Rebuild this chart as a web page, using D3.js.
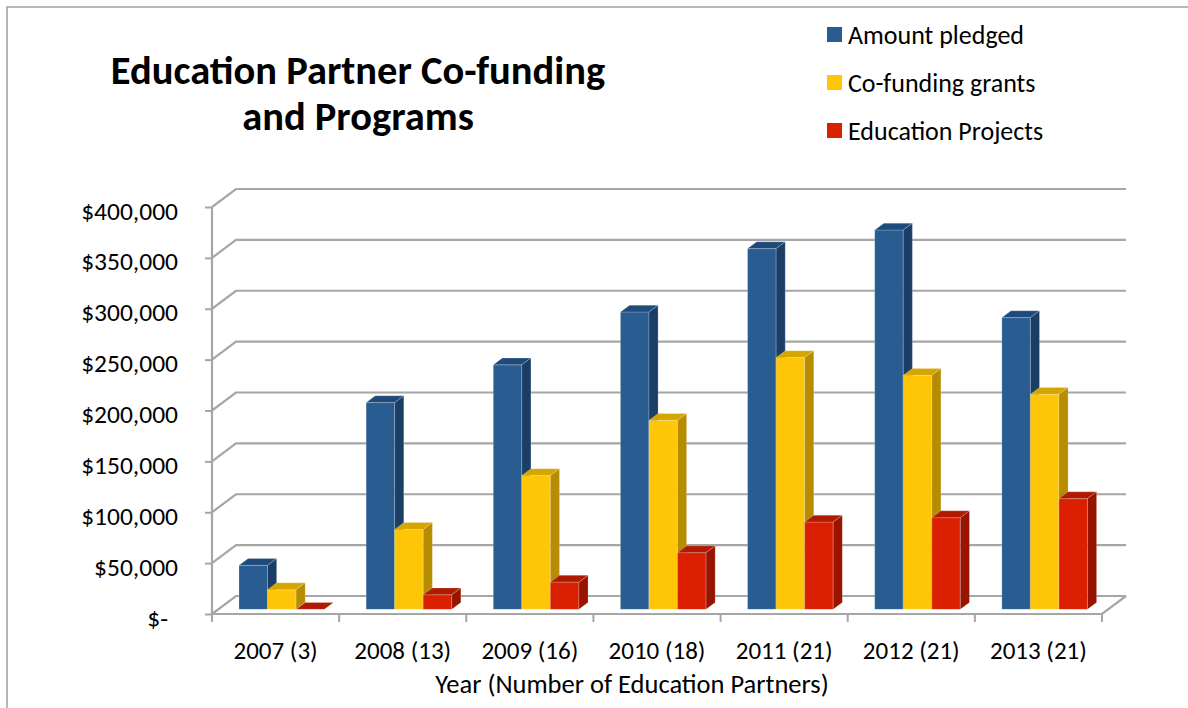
<!DOCTYPE html>
<html>
<head>
<meta charset="utf-8">
<script src="https://cdn.jsdelivr.net/npm/d3@7"></script>
<style>
  body { margin: 0; background: #fff; }
  svg text { font-family: Carlito, Calibri, Lato, sans-serif; fill: #000; }
</style>
</head>
<body>
<div id="chart"></div>
<script>
"use strict";
//values
var categories = ["2007 (3)", "2008 (13)", "2009 (16)", "2010 (18)", "2011 (21)", "2012 (21)", "2013 (21)"];
var seriesNames = ["Amount pledged", "Co-funding grants", "Education Projects"];
var amountPledged = [43200, 203200, 240300, 292200, 354500, 372800, 286700];
var cofundingGrants = [19300, 78500, 131500, 185700, 247400, 230000, 211300];
var educationProjects = [0, 14300, 26700, 55700, 85800, 90100, 108800];
var yTicks = [0, 50000, 100000, 150000, 200000, 250000, 300000, 350000, 400000];

var seriesValues = [amountPledged, cofundingGrants, educationProjects];
//front, top, side shades of each series
var shades = [
  ["#295c91", "#1f4b7b", "#1b3e66"],
  ["#ffc608", "#d6a600", "#b68c00"],
  ["#da2000", "#b01a00", "#961400"]
];

var w = 1188,
  h = 708;

//oblique depth offset of the back wall
var depthX = 24,
  depthY = -18;
//bar depth range (fraction of the wall depth)
var zFront = 0.26,
  zBack = 0.64;

var svg = d3
  .select("#chart")
  .append("svg")
  .attr("width", w)
  .attr("height", h);

//outer frame
svg
  .append("rect")
  .attr("x", 7)
  .attr("y", 7)
  .attr("width", w)
  .attr("height", h)
  .attr("fill", "none")
  .attr("stroke", "#a0a0a0")
  .attr("stroke-width", 1.5);

var x = d3
  .scaleBand()
  .domain(categories)
  .range([212, 1102]);

var y = d3
  .scaleLinear()
  .domain([0, 400000])
  .range([614, 207]);

var gridColor = "#a6a6a6";

//back wall gridlines with the left wall diagonal
var grid = svg.append("g");
grid
  .selectAll("path")
  .data(yTicks)
  .enter()
  .append("path")
  .attr("d", function(d) {
    var x0 = x.range()[0],
      y0 = y(d);
    return (
      "M" + x0 + "," + y0 +
      "L" + (x0 + depthX) + "," + (y0 + depthY) +
      "L" + (x.range()[1] + depthX) + "," + (y0 + depthY)
    );
  })
  .attr("fill", "none")
  .attr("stroke", gridColor)
  .attr("stroke-width", 2.2);

//floor front and right edges
grid
  .append("path")
  .attr("d", function() {
    var x0 = x.range()[0],
      x1 = x.range()[1],
      y0 = y(0);
    return "M" + x0 + "," + y0 + "L" + x1 + "," + y0 + "L" + (x1 + depthX) + "," + (y0 + depthY);
  })
  .attr("fill", "none")
  .attr("stroke", gridColor)
  .attr("stroke-width", 2.2);

//front value axis
var yAxis = d3
  .axisLeft(y)
  .tickValues(yTicks)
  .tickSize(7)
  .tickPadding(27)
  .tickFormat(function(d) {
    return d === 0 ? "$-" : "$" + d3.format(",")(d);
  });

var gy = svg
  .append("g")
  .attr("transform", "translate(" + x.range()[0] + ",0)")
  .call(yAxis);
gy.select(".domain")
  .attr("stroke", gridColor)
  .attr("stroke-width", 2.2)
  .attr("d", "M0," + y(400000) + "V" + y(0));
gy.selectAll(".tick line")
  .attr("stroke", gridColor)
  .attr("stroke-width", 2);
gy.selectAll(".tick text")
  .attr("font-size", 25.5)
  .attr("dy", "0.47em")
  .attr("dx", function(d) {
    return d === 0 ? -10 : 0;
  });

//category ticks at band edges
var edges = categories.map(function(c) {
  return x(c);
});
edges.push(x.range()[1]);
svg
  .append("g")
  .selectAll("line")
  .data(edges)
  .enter()
  .append("line")
  .attr("x1", function(d) {
    return d;
  })
  .attr("x2", function(d) {
    return d;
  })
  .attr("y1", y(0))
  .attr("y2", y(0) + 8)
  .attr("stroke", gridColor)
  .attr("stroke-width", 2);

var xAxis = d3.axisBottom(x).tickSize(0).tickPadding(45);
var gx = svg
  .append("g")
  .attr("transform", "translate(0," + y(0) + ")")
  .call(xAxis);
gx.select(".domain").remove();
gx.selectAll(".tick text")
  .attr("font-size", 25)
  .attr("dy", "0");

//3d bars
var barFrac = 0.2245;
var bw = x.bandwidth() * barFrac;

function pt(px, py) {
  return px + "," + py;
}

var bars = [];
categories.forEach(function(c, ci) {
  seriesValues.forEach(function(vals, si) {
    bars.push({ cat: c, s: si, v: vals[ci] });
  });
});

var barG = svg
  .append("g")
  .selectAll("g")
  .data(bars)
  .enter()
  .append("g");

barG.each(function(d) {
  var g = d3.select(this);
  var left = x(d.cat) + x.bandwidth() / 2 - 1.5 * bw + d.s * bw;
  var fx = left + zFront * depthX,
    fyb = y(0) + zFront * depthY,
    fyt = y(d.v) + zFront * depthY;
  var bx = (zBack - zFront) * depthX,
    by = (zBack - zFront) * depthY;
  var c = shades[d.s];
  //front face
  g.append("polygon")
    .attr("points", [pt(fx, fyt), pt(fx + bw, fyt), pt(fx + bw, fyb), pt(fx, fyb)].join(" "))
    .attr("fill", c[0])
    .attr("stroke", "rgba(255,255,255,0.35)")
    .attr("stroke-width", 0.6);
  //top face
  g.append("polygon")
    .attr("points", [pt(fx, fyt), pt(fx + bx, fyt + by), pt(fx + bw + bx, fyt + by), pt(fx + bw, fyt)].join(" "))
    .attr("fill", c[1])
    .attr("stroke", "rgba(255,255,255,0.35)")
    .attr("stroke-width", 0.6);
  //side face
  g.append("polygon")
    .attr("points", [pt(fx + bw, fyt), pt(fx + bw + bx, fyt + by), pt(fx + bw + bx, fyb + by), pt(fx + bw, fyb)].join(" "))
    .attr("fill", c[2])
    .attr("stroke", "rgba(255,255,255,0.35)")
    .attr("stroke-width", 0.6);
});

//title, two lines
var titleLines = ["Education Partner Co-funding", "and Programs"];
svg
  .append("g")
  .selectAll("text")
  .data(titleLines)
  .enter()
  .append("text")
  .attr("x", 358)
  .attr("y", function(d, i) {
    return 84 + i * 46;
  })
  .attr("text-anchor", "middle")
  .attr("font-size", 40.5)
  .attr("font-weight", "bold")
  .text(function(d) {
    return d;
  });

//legend
var legend = svg
  .append("g")
  .selectAll("g")
  .data(seriesNames)
  .enter()
  .append("g")
  .attr("transform", function(d, i) {
    return "translate(827," + (27 + i * 48) + ")";
  });
legend
  .append("rect")
  .attr("width", 15)
  .attr("height", 15)
  .attr("fill", function(d, i) {
    return shades[i][0];
  });
legend
  .append("text")
  .attr("x", 21)
  .attr("y", 17)
  .attr("font-size", 26)
  .text(function(d) {
    return d;
  });

//axis title
svg
  .append("text")
  .attr("x", 632)
  .attr("y", 693)
  .attr("text-anchor", "middle")
  .attr("font-size", 26.5)
  .text("Year (Number of Education Partners)");
</script>
</body>
</html>
